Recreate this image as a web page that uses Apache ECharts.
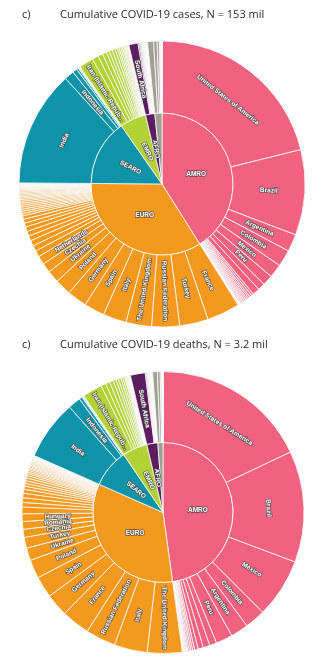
<!DOCTYPE html>
<html><head><meta charset="utf-8">
<script src="https://cdn.jsdelivr.net/npm/echarts@6.0.0/dist/echarts.min.js"></script>
<style>html,body{margin:0;padding:0;background:#fff}#c{width:327px;height:664px}</style>
</head><body><div id="c"></div>
<script>
// ---------- DATA ----------
const regions = ['AMRO', 'EURO', 'SEARO', 'EMRO', 'AFRO', 'WPRO'];
const titleCases = 'Cumulative COVID-19 cases, N = 153 mil';
const titleDeaths = 'Cumulative COVID-19 deaths, N = 3.2 mil';

// Cumulative cases, millions
const casesAMRO = [['United States of America',32.3],['Brazil',14.75],['Argentina',3.0],['Colombia',2.9],['Mexico',2.35],['Peru',1.8],['Canada',1.24],['Chile',1.21],['Ecuador',0.38],['Panama',0.37],['Bolivia',0.30],['Paraguay',0.30],['Dominican Republic',0.26],['Costa Rica',0.25],['Guatemala',0.23],['Uruguay',0.20],['Honduras',0.20],['Venezuela',0.20],['Puerto Rico',0.13],['Cuba',0.11],['El Salvador',0.069],['Jamaica',0.047],['French Guiana',0.018],['Guadeloupe',0.015],['Haiti',0.013],['Belize',0.013],['Guyana',0.013],['Curaçao',0.012],['Martinique',0.011],['Suriname',0.011],['Aruba',0.011],['Trinidad and Tobago',0.011],['Bahamas',0.010],['Nicaragua',0.007],['Saint Lucia',0.0045],['Barbados',0.004]];
const casesEURO = [['France',5.7],['Turkey',4.93],['Russian Federation',4.8],['The United Kingdom',4.42],['Italy',4.05],['Spain',3.53],['Germany',3.42],['Poland',2.82],['Ukraine',2.12],['Czechia',1.63],['Netherlands',1.5],['Romania',1.07],['Belgium',0.98],['Sweden',0.98],['Portugal',0.84],['Israel',0.84],['Hungary',0.79],['Serbia',0.69],['Switzerland',0.66],['Austria',0.62],['Bulgaria',0.40],['Slovakia',0.38],['Belarus',0.36],['Kazakhstan',0.36],['Greece',0.34],['Croatia',0.33],['Azerbaijan',0.32],['Georgia',0.29],['Lithuania',0.25],['Denmark',0.25],['Republic of Moldova',0.25],['Ireland',0.25],['Slovenia',0.24],['Armenia',0.21],['Bosnia and Herzegovina',0.20],['North Macedonia',0.15],['Albania',0.13],['Estonia',0.125],['Latvia',0.12],['Norway',0.11],['Montenegro',0.098],['Kyrgyzstan',0.09],['Uzbekistan',0.09],['Finland',0.09],['Luxembourg',0.068],['Cyprus',0.067],['Malta',0.030],['Tajikistan',0.013],['Andorra',0.013],['Iceland',0.0065],['San Marino',0.0051],['Gibraltar',0.0043],['Liechtenstein',0.003],['Monaco',0.0025]];
const casesSEARO = [['India',20.0],['Indonesia',1.68],['Bangladesh',0.77],['Nepal',0.36],['Myanmar',0.14],['Sri Lanka',0.11],['Thailand',0.07],['Maldives',0.03],['Timor-Leste',0.002],['Bhutan',0.001]];
const casesEMRO = [['Iran (Islamic Republic of)',2.52],['Iraq',1.07],['Pakistan',0.83],['Jordan',0.72],['Lebanon',0.53],['United Arab Emirates',0.52],['Morocco',0.51],['Saudi Arabia',0.42],['Tunisia',0.31],['occupied Palestinian territory',0.30],['Kuwait',0.28],['Egypt',0.23],['Qatar',0.21],['Oman',0.19],['Bahrain',0.18],['Libya',0.18],['Afghanistan',0.06],['Sudan',0.034],['Syrian Arab Republic',0.023],['Somalia',0.014],['Djibouti',0.011],['Yemen',0.006]];
const casesAFRO = [['South Africa',1.58],['Ethiopia',0.26],['Nigeria',0.165],['Kenya',0.16],['Algeria',0.122],['Ghana',0.093],['Zambia',0.092],['Cameroon',0.07],['Mozambique',0.07],['Namibia',0.048],['Botswana',0.046],["Côte d'Ivoire",0.046],['Uganda',0.042],['Senegal',0.04],['Zimbabwe',0.038],['Madagascar',0.037],['Malawi',0.034],['Democratic Republic of the Congo',0.03],['Angola',0.026],['Rwanda',0.025],['Gabon',0.023],['Guinea',0.022],['Cabo Verde',0.022],['Mauritania',0.018],['Eswatini',0.018],['Mali',0.014],['Burkina Faso',0.013],['Togo',0.012],['Lesotho',0.011],['South Sudan',0.011],['Congo',0.011],['Benin',0.008],['Equatorial Guinea',0.007],['Niger',0.005]];
const casesWPRO = [['Philippines',1.05],['Japan',0.6],['Malaysia',0.41],['Republic of Korea',0.124],['China',0.103],['Singapore',0.061],['Mongolia',0.045],['Australia',0.03],['French Polynesia',0.019],['Cambodia',0.014],['Papua New Guinea',0.011],['Guam',0.008],['Viet Nam',0.003],['New Zealand',0.0026]];

// Cumulative deaths, thousands
const deathsAMRO = [['United States of America',573],['Brazil',407],['Mexico',217],['Colombia',75],['Argentina',65],['Peru',61],['Chile',26],['Canada',24.3],['Ecuador',19],['Bolivia',13],['Guatemala',7.7],['Paraguay',6.3],['Panama',6.2],['Honduras',5.2],['Dominican Republic',3.5],['Costa Rica',3.3],['Uruguay',2.9],['Puerto Rico',2.2],['El Salvador',2.1],['Venezuela',2.0],['Jamaica',0.9],['Cuba',0.6],['Belize',0.32],['Guyana',0.3],['Haiti',0.26],['Guadeloupe',0.23],['Suriname',0.2],['Bahamas',0.2],['Nicaragua',0.18],['Trinidad and Tobago',0.16],['Aruba',0.1],['Curaçao',0.1],['Martinique',0.09],['French Guiana',0.09],['Barbados',0.05]];
const deathsEURO = [['The United Kingdom',127.5],['Italy',121],['Russian Federation',110],['France',103.6],['Germany',83.4],['Spain',78.3],['Poland',68.5],['Ukraine',45.8],['Turkey',39.4],['Czechia',29.5],['Romania',28.2],['Hungary',27.9],['Belgium',24.3],['Portugal',17.0],['Netherlands',16.9],['Bulgaria',16.4],['Sweden',14.0],['Slovakia',11.8],['Greece',10.2],['Austria',10.1],['Switzerland',10.0],['Bosnia and Herzegovina',8.5],['Croatia',7.1],['Israel',6.4],['Serbia',6.3],['Republic of Moldova',5.8],['North Macedonia',4.9],['Ireland',4.9],['Slovenia',4.3],['Azerbaijan',4.3],['Georgia',4.0],['Armenia',4.0],['Lithuania',3.8],['Kazakhstan',3.1],['Belarus',2.6],['Denmark',2.5],['Albania',2.4],['Latvia',2.1],['Montenegro',1.5],['Kyrgyzstan',1.5],['Estonia',1.2],['Finland',0.9],['Luxembourg',0.8],['Norway',0.75],['Uzbekistan',0.63],['Malta',0.41],['Cyprus',0.35],['Andorra',0.13],['Tajikistan',0.09],['San Marino',0.09],['Liechtenstein',0.06],['Monaco',0.03],['Iceland',0.03]];
const deathsSEARO = [['India',218],['Indonesia',45.8],['Bangladesh',11.7],['Nepal',3.4],['Myanmar',3.2],['Sri Lanka',0.7],['Thailand',0.3],['Maldives',0.07],['Timor-Leste',0.004],['Bhutan',0.001]];
const deathsEMRO = [['Iran (Islamic Republic of)',72.5],['Pakistan',18.0],['Iraq',15.6],['Egypt',13.5],['Tunisia',11.1],['Morocco',9.1],['Jordan',9.0],['Lebanon',7.4],['Saudi Arabia',6.9],['occupied Palestinian territory',3.3],['Libya',3.1],['Afghanistan',2.6],['Sudan',2.3],['Oman',2.0],['Syrian Arab Republic',1.6],['United Arab Emirates',1.6],['Kuwait',1.6],['Yemen',1.2],['Bahrain',0.7],['Somalia',0.7],['Qatar',0.44],['Djibouti',0.14]];
const deathsAFRO = [['South Africa',54.4],['Ethiopia',3.7],['Algeria',3.2],['Kenya',2.8],['Nigeria',2.06],['Zimbabwe',1.57],['Zambia',1.25],['Malawi',1.15],['Senegal',1.1],['Cameroon',1.0],['Mozambique',0.81],['Ghana',0.78],['Democratic Republic of the Congo',0.77],['Botswana',0.7],['Eswatini',0.67],['Namibia',0.65],['Madagascar',0.63],['Angola',0.59],['Mali',0.5],['Mauritania',0.45],['Uganda',0.34],['Rwanda',0.33],['Lesotho',0.32],["Côte d'Ivoire",0.28],['Cabo Verde',0.2],['Burkina Faso',0.16],['Congo',0.15],['Guinea',0.14],['Gabon',0.14],['Togo',0.12]];
const deathsWPRO = [['Philippines',17.4],['Japan',10.4],['China',4.85],['Republic of Korea',1.83],['Malaysia',1.6],['Australia',0.91],['Mongolia',0.14],['Guam',0.14],['French Polynesia',0.14],['Papua New Guinea',0.12],['Cambodia',0.1],['Viet Nam',0.035],['Singapore',0.03],['New Zealand',0.026]];

// ---------- STYLE ----------
const regionColors = {AMRO:'#F0627F', EURO:'#F39A1E', SEARO:'#0F93A8', EMRO:'#B3D236', AFRO:'#5B1D5F', WPRO:'#A09F93'};
const hiddenInnerLabels = ['WPRO'];
const fadeTo = [226, 226, 226];
function hexRgb(h){return [1,3,5].map(i=>parseInt(h.substr(i,2),16));}
function fade(hex, frac){
  const hi = Math.log10(0.005), lo = Math.log10(0.00008);
  let t = (hi - Math.log10(frac)) / (hi - lo);
  t = Math.max(0, Math.min(1, t));
  const c = hexRgb(hex);
  return 'rgb(' + c.map((v,i)=>Math.round(v + (fadeTo[i]-v)*t)).join(',') + ')';
}
const truncated = {'Iran (Islamic Republic of)': 'Iran (Islamic Repub...'};

function buildTree(sets, innerRot, tangentialNames){
  let total = 0;
  regions.forEach(r => sets[r].forEach(d => total += d[1]));
  return regions.map(r => ({
    name: r,
    itemStyle: {color: regionColors[r]},
    label: {rotate: innerRot[r], show: hiddenInnerLabels.indexOf(r) < 0},
    children: sets[r].map(([n, v]) => {
      const item = {name: n, value: v, itemStyle: {color: fade(regionColors[r], v / total)}};
      const lab = {};
      if (tangentialNames.indexOf(n) >= 0) lab.rotate = 'tangential';
      if (truncated[n]) lab.formatter = truncated[n];
      item.label = lab;
      return item;
    })
  }));
}

const casesTree = buildTree(
  {AMRO:casesAMRO, EURO:casesEURO, SEARO:casesSEARO, EMRO:casesEMRO, AFRO:casesAFRO, WPRO:casesWPRO},
  {AMRO:0, EURO:0, SEARO:'radial', EMRO:'radial', AFRO:'radial', WPRO:'radial'},
  ['United States of America', 'India']);
const deathsTree = buildTree(
  {AMRO:deathsAMRO, EURO:deathsEURO, SEARO:deathsSEARO, EMRO:deathsEMRO, AFRO:deathsAFRO, WPRO:deathsWPRO},
  {AMRO:0, EURO:0, SEARO:'radial', EMRO:'radial', AFRO:'radial', WPRO:'radial'},
  ['United States of America', 'Brazil']);

const labelStyle = {
  color: '#fff', fontSize: 6.5, fontWeight: 'bold', fontFamily: 'Liberation Sans',
  textBorderColor: 'rgba(70,70,70,0.85)', textBorderWidth: 1.4, minAngle: 3
};
function sunSeries(data, center, r1, r2){
  return {
    type: 'sunburst', data: data, center: center, radius: [0, r2],
    sort: null, startAngle: 90, clockwise: true, nodeClick: false,
    emphasis: {disabled: true},
    itemStyle: {borderColor: '#fafafa', borderWidth: 0.8},
    label: labelStyle,
    levels: [{}, {r0: 0, r: r1, label: {rotate: 0}}, {r0: r1, r: r2, label: {rotate: 'radial'}}]
  };
}
const titleFont = '11px "Open Sans"';
const chart = echarts.init(document.getElementById('c'), null, {renderer: 'canvas'});
chart.setOption({
  animation: false,
  graphic: [
    {type:'text', left: 22, top: 9, style:{text:'c)', font: titleFont, fill:'#2a2a2a'}},
    {type:'text', left: 60, top: 9, style:{text: titleCases, font: titleFont, fill:'#2a2a2a'}},
    {type:'text', left: 22, top: 339, style:{text:'c)', font: titleFont, fill:'#2a2a2a'}},
    {type:'text', left: 60, top: 339, style:{text: titleDeaths, font: titleFont, fill:'#2a2a2a'}}
  ],
  series: [
    sunSeries(casesTree, [162, 184], 71, 143),
    sunSeries(deathsTree, [163, 512.5], 70, 141)
  ]
});
</script>
</body></html>
